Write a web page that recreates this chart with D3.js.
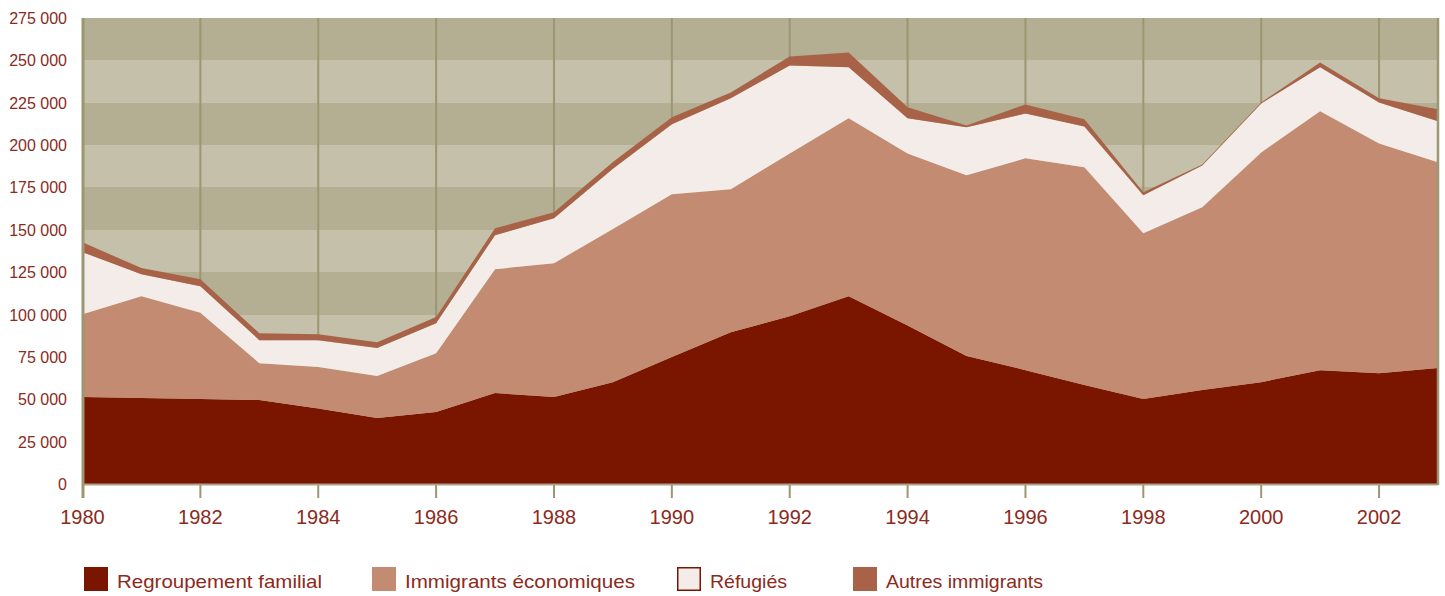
<!DOCTYPE html>
<html><head><meta charset="utf-8">
<script src="https://cdn.jsdelivr.net/npm/d3@7"></script>
<style>body{margin:0;background:#fff}svg{display:block}</style>
</head><body>
<script>
const years = [1980,1981,1982,1983,1984,1985,1986,1987,1988,1989,1990,1991,1992,1993,1994,1995,1996,1997,1998,1999,2000,2001,2002,2003];
// values in thousands
const familial   = [51.3,50.7,50.1,49.5,44.6,38.9,42.5,53.7,51.3,60.1,74.9,89.6,99.0,110.8,93.6,75.5,67.2,58.4,50.1,55.4,60.1,67.2,65.4,68.4];
const economiques= [48.9,60.1,50.9,21.8,24.4,24.8,34.7,73.1,79.0,90.4,96.1,84.4,96.0,105.0,101.4,106.7,125.0,128.5,97.9,107.9,135.6,152.7,135.6,121.5];
const refugies   = [36.6,13.0,15.7,13.6,15.9,16.5,17.7,20.0,26.5,35.5,41.3,53.6,52.0,30.1,20.8,28.3,26.5,24.1,22.4,24.7,28.9,26.0,24.2,24.1];
const autres     = [5.8,3.6,4.2,4.1,3.5,3.5,3.6,4.1,3.6,4.0,4.1,3.5,5.3,8.8,6.5,1.0,5.3,4.2,1.8,0.5,0.6,2.9,2.4,7.1];
const seriesNames = ["Regroupement familial","Immigrants économiques","Réfugiés","Autres immigrants"];
const seriesColors = ["#7a1500","#c48b73","#f4ece8","#a86248"];
const yTicks = [0,25000,50000,75000,100000,125000,150000,175000,200000,225000,250000,275000];
const xTicks = [1980,1982,1984,1986,1988,1990,1992,1994,1996,1998,2000,2002];

const W=1445,H=596;
const svg=d3.select("body").append("svg").attr("width",W).attr("height",H);
const x=d3.scaleLinear().domain([1980,2003]).range([82.5,1438]);
const y=d3.scaleLinear().domain([0,275000]).range([484,18]);
const txt="#8c2a1b", grid="#9c9672";

// bands
for(let i=0;i<11;i++){
  const y1=Math.round(y(yTicks[i+1])), y0=Math.round(y(yTicks[i]));
  svg.append("rect").attr("x",x(1980)).attr("width",x(2003)-x(1980))
    .attr("y",y1).attr("height",y0-y1).attr("shape-rendering","crispEdges")
    .attr("fill", i%2===0 ? "#b4af92" : "#c5c0aa");
}
// vertical grid
xTicks.filter(d=>d>1980).forEach(d=>{
  svg.append("line").attr("x1",x(d)).attr("x2",x(d)).attr("y1",y(275000)).attr("y2",y(0))
    .attr("stroke",grid).attr("stroke-width",2);
});

// stacked areas
const table = years.map((yr,i)=>({year:yr,
  [seriesNames[0]]:familial[i]*1000,[seriesNames[1]]:economiques[i]*1000,
  [seriesNames[2]]:refugies[i]*1000,[seriesNames[3]]:autres[i]*1000}));
const stack=d3.stack().keys(seriesNames)(table);
const area=d3.area().x(d=>x(d.data.year)).y0(d=>y(d[0])).y1(d=>y(d[1]));
svg.selectAll("path.layer").data(stack).join("path").attr("class","layer")
  .attr("d",area).attr("fill",(d,i)=>seriesColors[i]);

// axes frame
svg.append("line").attr("x1",x(1980)).attr("x2",x(2003)).attr("y1",484.5).attr("y2",484.5)
  .attr("stroke","#aaa486").attr("stroke-width",2);
svg.append("line").attr("x1",x(2003)).attr("x2",x(2003)).attr("y1",18).attr("y2",485)
  .attr("stroke",grid).attr("stroke-width",2.5);
svg.append("line").attr("x1",83).attr("x2",83).attr("y1",18).attr("y2",498)
  .attr("stroke",grid).attr("stroke-width",3);
xTicks.filter(d=>d>1980).forEach(d=>{
  svg.append("line").attr("x1",x(d)).attr("x2",x(d)).attr("y1",485).attr("y2",498)
    .attr("stroke",grid).attr("stroke-width",2);
});

// y labels
svg.selectAll("text.yl").data(yTicks).join("text").attr("class","yl")
  .attr("x",67).attr("y",d=>y(d)+6).attr("text-anchor","end")
  .attr("font-family","Liberation Sans, Arial, sans-serif").attr("font-size",16).attr("fill",txt)
  .text(d=>d===0?"0":d3.format(",")(d).replace(/,/g," "));
// x labels
svg.selectAll("text.xl").data(xTicks).join("text").attr("class","xl")
  .attr("x",d=>x(d)).attr("y",524).attr("text-anchor","middle")
  .attr("font-family","Liberation Sans, Arial, sans-serif").attr("font-size",20).attr("fill",txt)
  .text(d=>d);

// legend
const legX=[84,372,677,853], legW=[205,230,77,157];
seriesNames.forEach((n,i)=>{
  svg.append("rect").attr("x",legX[i]+(i===2?0.75:0)).attr("y",567+(i===2?0.75:0))
    .attr("width",i===2?22.5:24).attr("height",i===2?22.5:24)
    .attr("fill",seriesColors[i]).attr("stroke",i===2?"#7a1500":"none").attr("stroke-width",1.5);
  svg.append("text").attr("x",legX[i]+33).attr("y",588)
    .attr("font-family","Liberation Sans, Arial, sans-serif").attr("font-size",19).attr("fill",txt)
    .attr("textLength",legW[i]).attr("lengthAdjust","spacingAndGlyphs").text(n);
});
</script>
</body></html>
